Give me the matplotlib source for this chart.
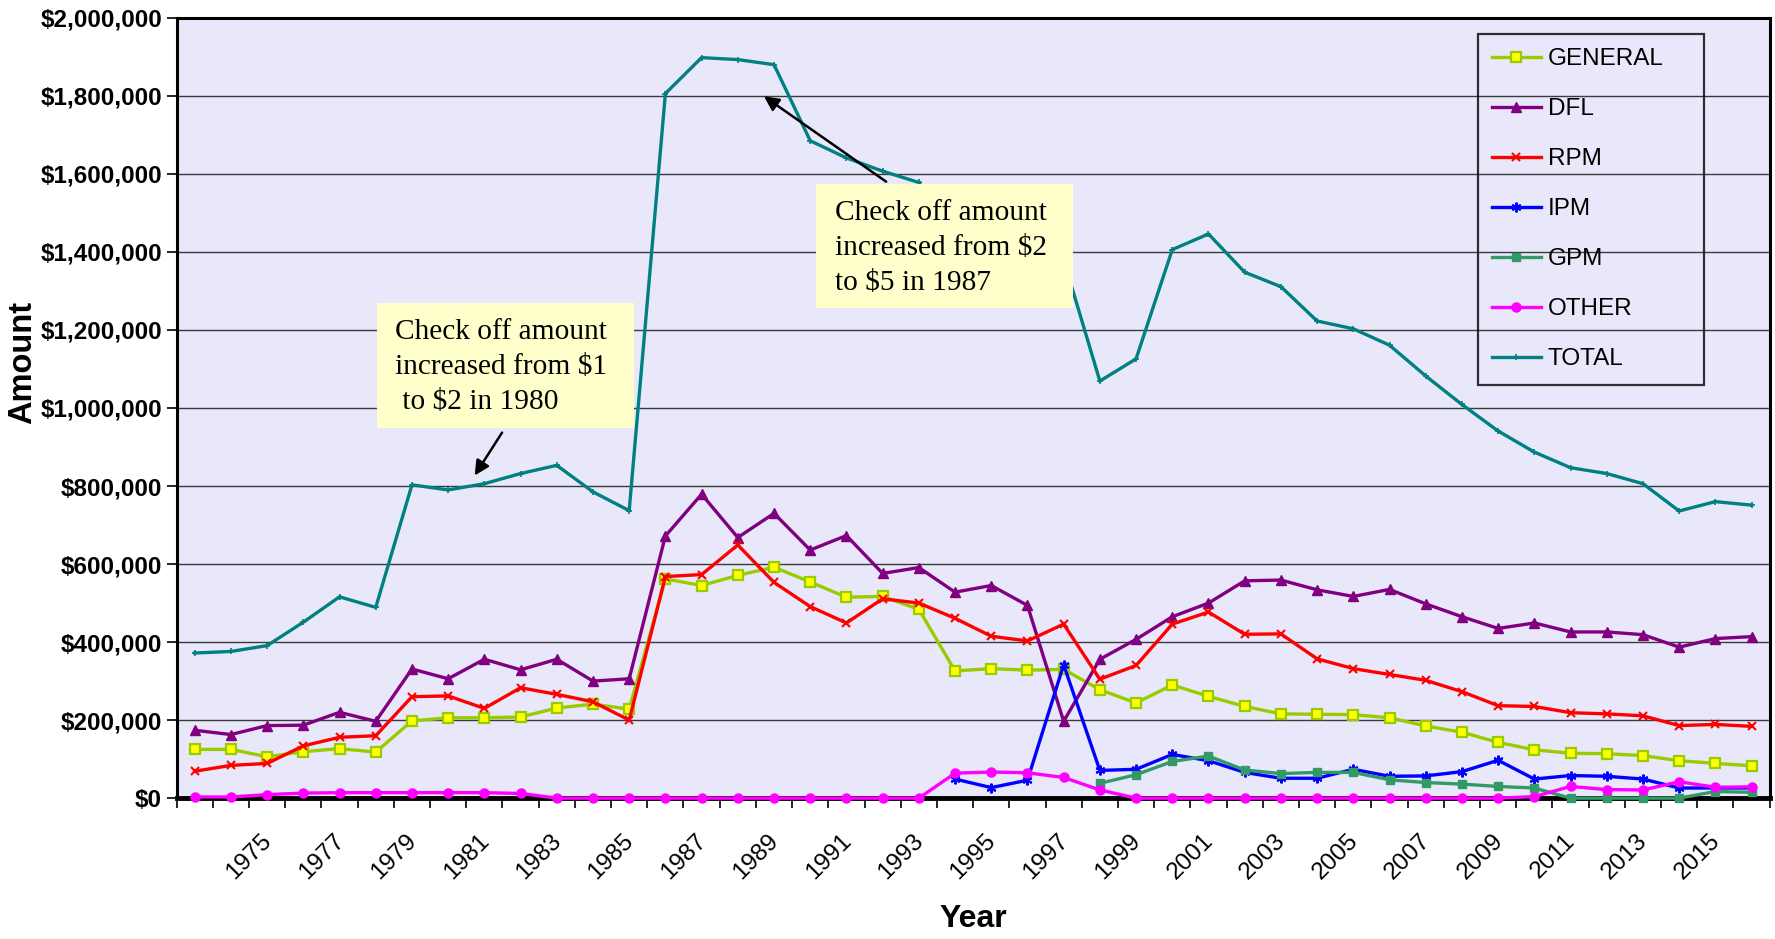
""" Check-off amounts by fund, 1973-2016 """
import numpy as np
import matplotlib
matplotlib.use("Agg")
import matplotlib.pyplot as plt
from matplotlib.patches import Rectangle
from matplotlib.ticker import FuncFormatter, MultipleLocator, FixedLocator

nan = np.nan

# Data (thousands of dollars), one value per year 1973..2016
years = list(range(1973, 2017))
general = [125, 125, 106, 119, 127, 118, 198, 206, 206, 208,
           231, 241, 228, 562, 545, 571, 592, 554, 515, 517,
           484, 326, 332, 328, 330, 278, 244, 290, 261, 235,
           216, 215, 214, 206, 185, 169, 143, 124, 115, 114,
           109, 96, 89, 83]
dfl = [174, 163, 186, 187, 220, 197, 331, 306, 356, 329,
       356, 300, 306, 672, 779, 668, 730, 636, 673, 576,
       591, 528, 545, 494, 197, 356, 407, 465, 500, 557,
       559, 534, 517, 535, 498, 465, 435, 449, 426, 426,
       419, 387, 409, 414]
rpm = [69, 84, 89, 134, 156, 160, 260, 262, 230, 283,
       266, 247, 200, 568, 573, 649, 553, 491, 449, 511,
       500, 461, 415, 403, 446, 305, 340, 446, 477, 420,
       421, 357, 332, 317, 302, 273, 237, 235, 219, 216,
       211, 186, 189, 184]
ipm = [nan] * 21 + [49, 27, 46, 342, 71, 74, 112, 96, 66,
                    51, 51, 74, 56, 57, 68, 97, 49, 58, 56,
                    49, 26, 26, 26]
gpm = [nan] * 25 + [38, 60, 94, 108, 72,
                    63, 66, 66, 47, 40, 36, 30, 26, 0, 0,
                    0, 0, 17, 15]
other = [3, 3, 9, 13, 14, 14, 14, 14, 14, 12,
         0, 0, 0, 0, 0, 0, 0, 0, 0, 0,
         0, 64, 67, 65, 53, 21, 0, 0, 0, 0,
         0, 0, 0, 0, 0, 0, 0, 4, 30, 22,
         21, 42, 28, 29]
total = [372, 376, 391, 451, 516, 489, 803, 790, 806, 832,
         853, 785, 737, 1806, 1898, 1893, 1880, 1685, 1641, 1607,
         1578, 1433, 1393, 1343, 1380, 1069, 1126, 1406, 1446, 1348,
         1311, 1223, 1203, 1161, 1082, 1009, 941, 887, 847, 832,
         806, 736, 760, 751]

label_years = list(range(1975, 2016, 2))

plt.rcParams['font.family'] = ['Liberation Sans', 'DejaVu Sans']

fig = plt.figure(figsize=(17.75, 9.39), dpi=100)
ax = fig.add_axes([0.0995, 0.150, 0.8975, 0.831])
ax.set_facecolor('#E8E8FA')

series = [
    ("GENERAL", general, dict(color='#99CC00', marker='s', markerfacecolor='#FFFF00',
                              markeredgecolor='#99CC00', markersize=6.5, markeredgewidth=1.6)),
    ("DFL", dfl, dict(color='#800080', marker='^', markersize=6.5)),
    ("RPM", rpm, dict(color='#FF0000', marker='x', markersize=6, markeredgewidth=1.5)),
    ("IPM", ipm, dict(color='#0000FF', marker=(6, 2, 0), markersize=7, markeredgewidth=1.5)),
    ("GPM", gpm, dict(color='#339966', marker='s', markersize=6)),
    ("OTHER", other, dict(color='#FF00FF', marker='o', markersize=6.5)),
    ("TOTAL", total, dict(color='#008080', marker='+', markersize=5, markeredgewidth=1.2)),
]
for name, vals, style in series:
    ax.plot(years, vals, label=name, lw=2.4, zorder=3, clip_on=False, **style)

# axes
ax.set_xlim(1972.5, 2016.5)
ax.set_ylim(0, 2000)
ax.yaxis.set_major_locator(MultipleLocator(200))
ax.yaxis.set_major_formatter(FuncFormatter(lambda v, p: "${:,.0f}".format(v * 1000)))
ax.grid(axis='y', color='#3a3a3a', lw=1.0, zorder=1)
ax.set_axisbelow(True)

# ticks sit between categories, labels on every other year
ax.xaxis.set_major_locator(FixedLocator([y - 0.5 for y in years] + [2016.5]))
ax.xaxis.set_major_formatter(FuncFormatter(lambda v, p: ""))
ax.xaxis.set_minor_locator(FixedLocator([y + 0.25 for y in label_years]))
ax.set_xticklabels([str(y) for y in label_years], minor=True, rotation=45,
                   ha='right', va='top', fontsize=17.5)
ax.tick_params(axis='x', which='minor', length=0, pad=23)
ax.tick_params(axis='x', which='major', length=7, width=1.2, direction='out')
ax.tick_params(axis='y', length=7, width=1.2, direction='out', labelsize=17.5)
for lbl in ax.get_yticklabels():
    lbl.set_fontweight('bold')

for side in ['left', 'right', 'top']:
    ax.spines[side].set_linewidth(2.2)
ax.spines['bottom'].set_linewidth(3.5)

ax.set_ylabel("Amount", fontsize=23.5, fontweight='bold', va='center')
ax.yaxis.set_label_coords(-0.0967, 0.559)
ax.set_xlabel("Year", fontsize=23, fontweight='bold', va='top')
ax.xaxis.set_label_coords(0.5004, -0.136)

# annotation boxes
note_font = dict(family=['Liberation Serif', 'DejaVu Serif'], fontsize=21.2,
                 linespacing=1.45, zorder=7)
ax.add_patch(Rectangle((1978.03, 949), 7.1, 319.5, facecolor='#FFFFCC',
                       edgecolor='none', zorder=6))
ax.text(1978.53, 1105, "Check off amount\nincreased from $1\n to $2 in 1980",
        ha='left', va='center', **note_font)
ax.add_patch(Rectangle((1990.16, 1257), 7.1, 316, facecolor='#FFFFCC',
                       edgecolor='none', zorder=6))
ax.text(1990.69, 1410, "Check off amount\nincreased from $2\nto $5 in 1987",
        ha='left', va='center', **note_font)

arrow = dict(arrowstyle='-|>', color='black', lw=1.8, mutation_scale=22)
ax.annotate('', xy=(1980.69, 821), xytext=(1981.53, 943), arrowprops=arrow, zorder=8)
ax.annotate('', xy=(1988.66, 1803), xytext=(1992.16, 1576), arrowprops=arrow, zorder=8)

leg = ax.legend(loc='upper left', bbox_to_anchor=(0.8166, 0.534, 0.1422, 0.4457),
                mode='expand', fontsize=17.5, frameon=True, fancybox=False,
                labelspacing=1.15, handlelength=2.0, handletextpad=0.3,
                borderpad=0.6, borderaxespad=0)
leg.get_frame().set_edgecolor('black')
leg.get_frame().set_linewidth(1.6)
leg.get_frame().set_facecolor('none')
leg.set_zorder(9)

fig.savefig("out.png", dpi=100)
